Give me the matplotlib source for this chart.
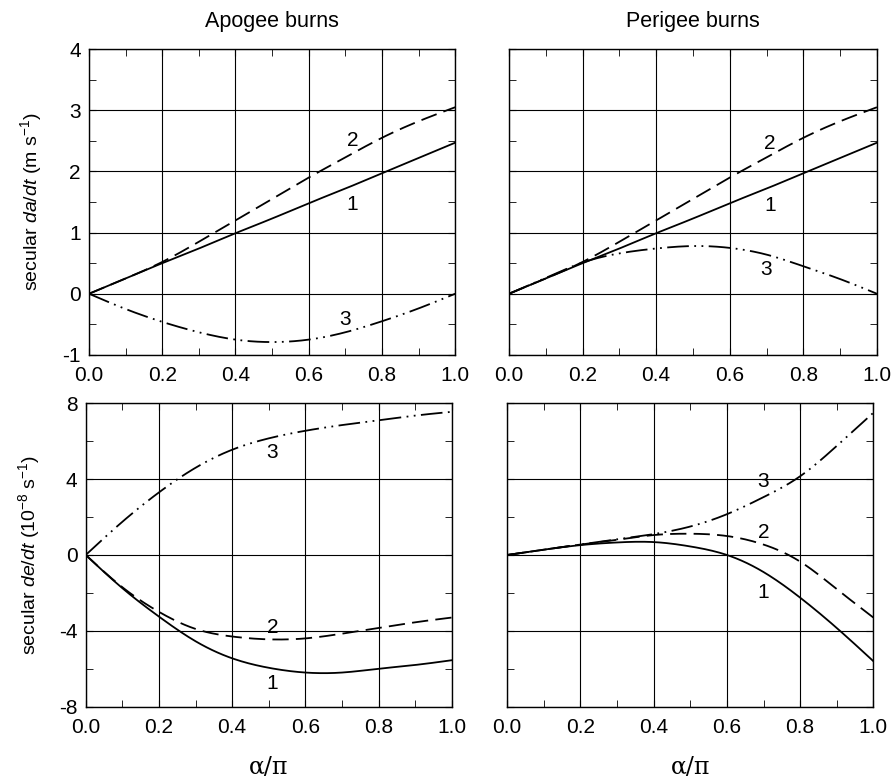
import numpy as np
import matplotlib
matplotlib.use("Agg")
import matplotlib.pyplot as plt
from matplotlib.ticker import MultipleLocator

plt.rcParams['font.family'] = ['Liberation Sans', 'DejaVu Sans']
plt.rcParams['mathtext.fontset'] = 'custom'
plt.rcParams['mathtext.rm'] = 'Liberation Sans'
plt.rcParams['mathtext.it'] = 'Liberation Sans:italic'
plt.rcParams['axes.unicode_minus'] = False

# alpha/pi sample points
x = [0.0, 0.1, 0.2, 0.3, 0.4, 0.5, 0.6, 0.7, 0.8, 0.9, 1.0]

# secular da/dt (m/s), apogee burns
apo_da_1 = [0.0, 0.25, 0.50, 0.74, 0.99, 1.23, 1.48, 1.72, 1.97, 2.22, 2.47]
apo_da_2 = [0.0, 0.25, 0.52, 0.85, 1.20, 1.55, 1.90, 2.23, 2.55, 2.82, 3.05]
apo_da_3 = [0.0, -0.25, -0.46, -0.63, -0.75, -0.79, -0.75, -0.63, -0.45, -0.24, 0.0]

# secular da/dt (m/s), perigee burns
per_da_1 = [0.0, 0.25, 0.50, 0.74, 0.99, 1.23, 1.48, 1.72, 1.97, 2.22, 2.47]
per_da_2 = [0.0, 0.25, 0.52, 0.85, 1.20, 1.55, 1.90, 2.23, 2.55, 2.82, 3.05]
per_da_3 = [0.0, 0.26, 0.51, 0.66, 0.74, 0.78, 0.75, 0.64, 0.45, 0.24, 0.0]

# secular de/dt (1e-8 /s), apogee burns
apo_de_1 = [0.0, -1.75, -3.25, -4.55, -5.45, -5.95, -6.20, -6.20, -6.00, -5.80, -5.55]
apo_de_2 = [0.0, -1.70, -3.00, -3.90, -4.30, -4.45, -4.40, -4.15, -3.85, -3.55, -3.30]
apo_de_3 = [0.0, 1.75, 3.30, 4.60, 5.55, 6.15, 6.55, 6.85, 7.10, 7.35, 7.55]

# secular de/dt (1e-8 /s), perigee burns
per_de_1 = [0.0, 0.28, 0.52, 0.66, 0.68, 0.45, 0.0, -0.90, -2.25, -3.85, -5.60]
per_de_2 = [0.0, 0.28, 0.55, 0.80, 1.05, 1.12, 1.00, 0.55, -0.35, -1.80, -3.30]
per_de_3 = [0.0, 0.28, 0.55, 0.82, 1.10, 1.50, 2.15, 3.05, 4.15, 5.75, 7.50]

styles = {
    1: dict(linestyle='-'),
    2: dict(dashes=(9, 4)),
    3: dict(dashes=(12, 3, 1, 3, 1, 3)),
}


def spline(xs, ys, n=201):
    # natural cubic spline through the read-off points
    xs = np.asarray(xs, float)
    ys = np.asarray(ys, float)
    m = len(xs)
    h = np.diff(xs)
    A = np.zeros((m, m))
    b = np.zeros(m)
    A[0, 0] = A[-1, -1] = 1
    for i in range(1, m - 1):
        A[i, i - 1] = h[i - 1]
        A[i, i] = 2 * (h[i - 1] + h[i])
        A[i, i + 1] = h[i]
        b[i] = 6 * ((ys[i + 1] - ys[i]) / h[i] - (ys[i] - ys[i - 1]) / h[i - 1])
    M = np.linalg.solve(A, b)
    xx = np.linspace(xs[0], xs[-1], n)
    idx = np.clip(np.searchsorted(xs, xx) - 1, 0, m - 2)
    x0, x1 = xs[idx], xs[idx + 1]
    hh = x1 - x0
    t0, t1 = x1 - xx, xx - x0
    yy = (M[idx] * t0 ** 3 + M[idx + 1] * t1 ** 3) / (6 * hh) \
        + (ys[idx] / hh - M[idx] * hh / 6) * t0 \
        + (ys[idx + 1] / hh - M[idx + 1] * hh / 6) * t1
    return xx, yy


fig = plt.figure(figsize=(8.93, 7.8), dpi=100)
ax_tl = fig.add_axes([0.0997, 0.545, 0.41, 0.392])
ax_tr = fig.add_axes([0.570, 0.545, 0.412, 0.392])
ax_bl = fig.add_axes([0.096, 0.094, 0.41, 0.389])
ax_br = fig.add_axes([0.568, 0.094, 0.41, 0.389])

panels = [
    (ax_tl, [apo_da_1, apo_da_2, apo_da_3], [(0.72, 1.46), (0.72, 2.5), (0.70, -0.42)]),
    (ax_tr, [per_da_1, per_da_2, per_da_3], [(0.71, 1.44), (0.71, 2.45), (0.70, 0.40)]),
    (ax_bl, [apo_de_1, apo_de_2, apo_de_3], [(0.51, -6.8), (0.51, -3.8), (0.51, 5.4)]),
    (ax_br, [per_de_1, per_de_2, per_de_3], [(0.70, -2.0), (0.70, 1.2), (0.70, 3.85)]),
]

for ax, series, pos in panels:
    for i, ys in enumerate(series, start=1):
        xx, yy = spline(x, ys)
        ax.plot(xx, yy, color='black', lw=1.3, **styles[i])
    for n, (px, py) in enumerate(pos, start=1):
        ax.text(px, py, str(n), fontsize=15, ha='center', va='center')
    ax.set_xlim(0, 1)
    ax.xaxis.set_major_locator(MultipleLocator(0.2))
    ax.xaxis.set_minor_locator(MultipleLocator(0.1))
    ax.xaxis.set_major_formatter(plt.FuncFormatter(lambda v, p: f"{v:.1f}"))
    ax.grid(True, which='major', color='black', lw=0.8)
    ax.tick_params(which='both', direction='in', top=True, right=True,
                   labelsize=15, length=5)
    ax.tick_params(axis='x', pad=8)
    ax.tick_params(axis='y', pad=6)
    for sp in ax.spines.values():
        sp.set_linewidth(1.0)

for ax in (ax_tl, ax_tr):
    ax.set_ylim(-1, 4)
    ax.yaxis.set_major_locator(MultipleLocator(1))
    ax.yaxis.set_minor_locator(MultipleLocator(0.5))
for ax in (ax_bl, ax_br):
    ax.set_ylim(-8, 8)
    ax.yaxis.set_major_locator(MultipleLocator(4))
    ax.yaxis.set_minor_locator(MultipleLocator(2))
for ax in (ax_tr, ax_br):
    ax.tick_params(labelleft=False)

ax_tl.set_title("Apogee burns", fontsize=15.5, pad=16)
ax_tr.set_title("Perigee burns", fontsize=15.5, pad=16)
ax_tl.set_ylabel(r"secular $\it{da/dt}$ (m s$^{\rm{-1}}$)", fontsize=14, labelpad=13)
ax_bl.set_ylabel(r"secular $\it{de/dt}$ (10$^{\rm{-8}}$ s$^{\rm{-1}}$)", fontsize=14, labelpad=12)
for ax in (ax_bl, ax_br):
    ax.set_xlabel("α/π", fontsize=17, family=['DejaVu Serif'], labelpad=14)

fig.savefig("out.png", dpi=100)
